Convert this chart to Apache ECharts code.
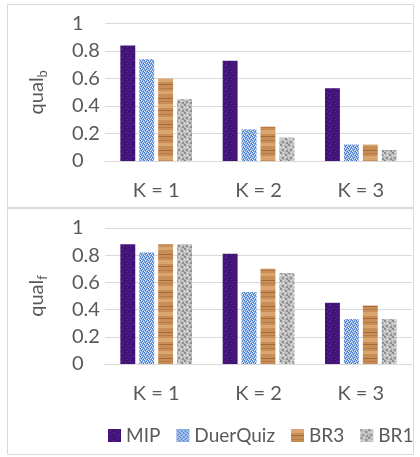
<!DOCTYPE html>
<html><head><meta charset="utf-8">
<script src="https://cdn.jsdelivr.net/npm/echarts@6/dist/echarts.min.js"></script>
<style>html,body{margin:0;padding:0;background:#fff}#c{width:420px;height:457px}</style>
</head><body><div id="c"></div>
<script>
// ---- data ----
const categories = ['K = 1', 'K = 2', 'K = 3'];
const seriesNames = ['MIP', 'DuerQuiz', 'BR3', 'BR1'];
const qualB_MIP = [0.84, 0.73, 0.53];
const qualB_DuerQuiz = [0.74, 0.23, 0.12];
const qualB_BR3 = [0.60, 0.25, 0.12];
const qualB_BR1 = [0.45, 0.17, 0.08];
const qualF_MIP = [0.88, 0.81, 0.45];
const qualF_DuerQuiz = [0.82, 0.53, 0.33];
const qualF_BR3 = [0.88, 0.70, 0.43];
const qualF_BR1 = [0.88, 0.67, 0.33];
const yTickLabels = ['0', '0.2', '0.4', '0.6', '0.8', '1'];

// ---- textures (styling only) ----
function tile(w, h, draw) {
  const c = document.createElement('canvas');
  c.width = w; c.height = h;
  draw(c.getContext('2d'));
  return { image: c, repeat: 'repeat' };
}
function px(ctx, col, pts, s) { s = s || 1; ctx.fillStyle = col; pts.forEach(p => ctx.fillRect(p[0], p[1], s, s)); }
const texMIP = tile(8, 8, ctx => {
  ctx.fillStyle = '#44137a'; ctx.fillRect(0, 0, 8, 8);
  px(ctx, '#5a2598', [[1,1],[2,1],[5,3],[6,4],[2,5],[3,6],[7,7],[0,4]]);
  px(ctx, '#33105c', [[4,0],[6,1],[1,3],[4,6],[6,6]]);
});
const texDQ = tile(4, 4, ctx => {
  ctx.fillStyle = '#86ace6'; ctx.fillRect(0, 0, 4, 4);
  px(ctx, '#4675c6', [[0,0],[2,1],[1,2],[3,3]]);
  px(ctx, '#e3edfa', [[1,0],[3,1],[0,3],[2,2]]);
});
const texBR3 = tile(8, 26, ctx => {
  ctx.fillStyle = '#c98d56'; ctx.fillRect(0, 0, 8, 26);
  ctx.fillStyle = '#d9a571'; ctx.fillRect(0, 0, 8, 4); ctx.fillRect(0, 13, 8, 3);
  ctx.fillStyle = '#a46a38'; ctx.fillRect(0, 6, 8, 1); ctx.fillRect(0, 20, 8, 1);
  ctx.fillStyle = '#b57c47'; ctx.fillRect(0, 10, 8, 1); ctx.fillRect(0, 23, 8, 1);
});
const texBR1 = tile(8, 8, ctx => {
  ctx.fillStyle = '#c2c2c2'; ctx.fillRect(0, 0, 8, 8);
  px(ctx, '#8e8e8e', [[0,0],[5,2],[2,5],[6,6]], 2);
  px(ctx, '#e8e8e8', [[3,0],[0,3],[5,5],[3,3]], 1);
  px(ctx, '#a5a5a5', [[7,4],[1,7],[4,1]], 1);
});
const textures = [texMIP, texDQ, texBR3, texBR1];

const FONT = 'Lato';
const TXT = '#595959';
const GRIDC = '#d9d9d9';

const chart = echarts.init(document.getElementById('c'), null, { renderer: 'canvas' });

function yAxis(gridIndex, sub) {
  return {
    gridIndex, type: 'value', min: 0, max: 1, interval: 0.2,
    axisLine: { show: false }, axisTick: { show: false },
    splitLine: { lineStyle: { color: GRIDC, width: 1 } },
    axisLabel: {
      color: TXT, fontSize: 20, fontFamily: FONT, align: 'left', margin: 33,
      formatter: v => yTickLabels[Math.round(v * 5)]
    },
    name: '{a|qual}{b|' + sub + '}',
    nameLocation: 'middle', nameRotate: 90, nameGap: 56,
    nameTextStyle: {
      rich: {
        a: { fontSize: 20, color: TXT, fontFamily: FONT, lineHeight: 24 },
        b: { fontSize: 13, color: TXT, fontFamily: FONT, lineHeight: 13, verticalAlign: 'bottom' }
      }
    }
  };
}
function xAxis(gridIndex) {
  return {
    gridIndex, type: 'category', data: categories,
    axisLine: { show: true, lineStyle: { color: GRIDC } }, axisTick: { show: false },
    axisLabel: { color: TXT, fontSize: 20, fontFamily: FONT, margin: 20 }
  };
}
const topData = [qualB_MIP, qualB_DuerQuiz, qualB_BR3, qualB_BR1];
const botData = [qualF_MIP, qualF_DuerQuiz, qualF_BR3, qualF_BR1];
const series = [];
[topData, botData].forEach((set, g) => {
  set.forEach((d, i) => {
    series.push({
      name: seriesNames[i], type: 'bar', xAxisIndex: g, yAxisIndex: g, data: d,
      barGap: '27%', barCategoryGap: '30%',
      itemStyle: { color: textures[i] }
    });
  });
});

chart.setOption({
  animation: false,
  backgroundColor: '#fff',
  textStyle: { fontFamily: FONT },
  graphic: [
    { type: 'rect', shape: { x: 7.5, y: 4.5, width: 406, height: 203 }, style: { fill: 'none', stroke: GRIDC, lineWidth: 1 }, silent: true },
    { type: 'rect', shape: { x: 7.5, y: 208.5, width: 406, height: 246 }, style: { fill: 'none', stroke: GRIDC, lineWidth: 1 }, silent: true }
  ],
  grid: [
    { left: 105, right: 8, top: 23.5, height: 137.5 },
    { left: 105, right: 8, top: 228, height: 136 }
  ],
  xAxis: [xAxis(0), xAxis(1)],
  yAxis: [yAxis(0, 'b'), yAxis(1, 'f')],
  legend: {
    data: seriesNames, top: 426, left: 108, right: 0, padding: 0,
    itemWidth: 13, itemHeight: 13, itemGap: 16, icon: 'rect',
    textStyle: { color: TXT, fontSize: 19, fontFamily: FONT }
  },
  series
});
</script>
</body></html>
